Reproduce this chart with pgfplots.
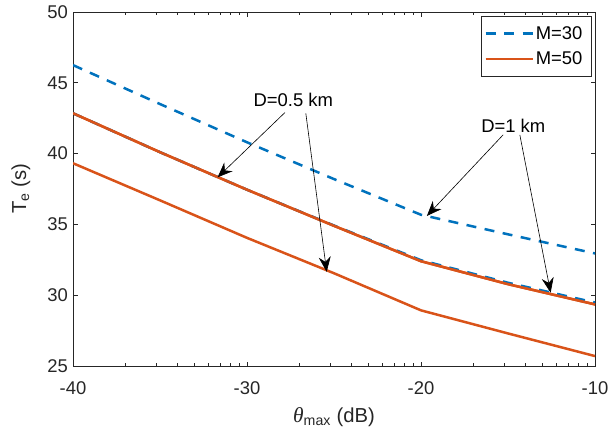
\documentclass[border=0pt]{standalone}
\usepackage{fontspec}
\setmainfont{Liberation Sans}
\newfontfamily\serifit{Liberation Serif}
\usepackage{pgfplots}
\pgfplotsset{compat=1.18}
\usetikzlibrary{arrows.meta}
\definecolor{mblue}{RGB}{0,114,189}
\definecolor{morange}{RGB}{217,83,25}
\definecolor{axgray}{RGB}{38,38,38}
\begin{document}
\begin{tikzpicture}
\begin{axis}[
  scale only axis, width=522bp, height=354bp,
  xmin=-40, xmax=-10, ymin=25, ymax=50,
  xtick={-40,-30,-20,-10},
  xticklabels={-40,-30,-20,-10},
  xminorticks=true,
  minor xtick={-36.990,-35.229,-33.979,-33.010,-32.218,-31.549,-30.969,-30.458,
               -26.990,-25.229,-23.979,-23.010,-22.218,-21.549,-20.969,-20.458,
               -16.990,-15.229,-13.979,-13.010,-12.218,-11.549,-10.969,-10.458},
  ytick={25,30,35,40,45,50},
  /pgf/number format/assume math mode=true,
  axis line style={axgray, line width=0.8bp},
  major tick style={axgray, line width=0.8bp},
  minor tick style={axgray, line width=0.8bp},
  major tick length=4.5bp, minor tick length=3bp,
  tick align=inside,
  ticklabel style={font=\fontsize{18.5}{22}\selectfont, text=axgray, inner sep=0pt},
  xticklabel style={anchor=north, yshift=-15bp},
  yticklabel style={anchor=east, xshift=-5bp},
  xlabel={{\serifit\itshape\fontsize{21.5}{24}\selectfont θ}\textsubscript{max} (dB)},
  ylabel={T\textsubscript{e} (s)},
  label style={font=\fontsize{20.3}{24}\selectfont, text=axgray, inner sep=0pt},
  xlabel style={at={(axis description cs:0.5,-0.160)}, anchor=base},
  ylabel style={at={(axis description cs:-0.090,0.5)}, anchor=base},
  legend style={at={(axis description cs:0.994,0.989)}, anchor=north east,
    font=\fontsize{18.5}{22}\selectfont, draw=axgray, line width=0.8bp,
    inner xsep=3bp, inner ysep=4.5bp, row sep=0bp, column sep=0bp,
    nodes={inner xsep=2bp, inner ysep=5.5bp}},
  legend cell align=left,
  legend image code/.code={\draw[#1, line width=2.5bp] (0bp,0bp) -- (47bp,0bp);},
]
% M=30, D=1 km
\addplot[mblue, line width=2.5bp, dash pattern=on 10bp off 8.5bp] coordinates {
(-40,46.25) (-35,43.5) (-30,40.8) (-25,38.2) (-20,35.68) (-15,34.3) (-10,32.95)};
\addlegendentry{M=30\hspace*{4bp}}
% M=50, D=1 km
\addplot[morange, line width=2.5bp] coordinates {
(-40,42.85) (-35,40.1) (-30,37.45) (-25,34.9) (-20,32.4) (-15,30.78) (-10,29.35)};
\addlegendentry{M=50\hspace*{4bp}}
% M=30, D=0.5 km (mostly hidden)
\addplot[mblue, line width=2.5bp, dash pattern=on 10bp off 8.5bp, forget plot] coordinates {
(-40,42.85) (-35,40.1) (-30,37.45) (-25,34.92) (-20,32.47) (-15,30.88) (-10,29.48)};
\addplot[morange, line width=2.5bp, forget plot] coordinates {
(-40,42.85) (-35,40.1) (-30,37.45) (-25,34.9) (-20,32.4) (-15,30.78) (-10,29.35)};
% M=50, D=0.5 km
\addplot[morange, line width=2.5bp, forget plot] coordinates {
(-40,39.32) (-35,36.7) (-30,34.05) (-25,31.55) (-20,28.93) (-15,27.3) (-10,25.7)};
% annotations
\node[font=\fontsize{18.5}{22}\selectfont, inner sep=0pt] at (axis description cs:0.422,0.751) {D=0.5 km};
\node[font=\fontsize{18.5}{22}\selectfont, inner sep=0pt] at (axis description cs:0.8435,0.6785) {D=1 km};
\begin{scope}[line width=0.6bp, -{Stealth[length=15bp,width=12bp,inset=5bp]}]
\draw (axis description cs:0.406,0.716) -- (axis description cs:0.277,0.533);
\draw (axis description cs:0.446,0.714) -- (axis description cs:0.486,0.266);
\draw (axis description cs:0.824,0.653) -- (axis description cs:0.678,0.424);
\draw (axis description cs:0.856,0.653) -- (axis description cs:0.915,0.207);
\end{scope}
\end{axis}
\pgfresetboundingbox
\path[use as bounding box] ([shift={(-73bp,-62bp)}]current axis.south west) rectangle ([shift={(15bp,12bp)}]current axis.north east);
\end{tikzpicture}
\end{document}
